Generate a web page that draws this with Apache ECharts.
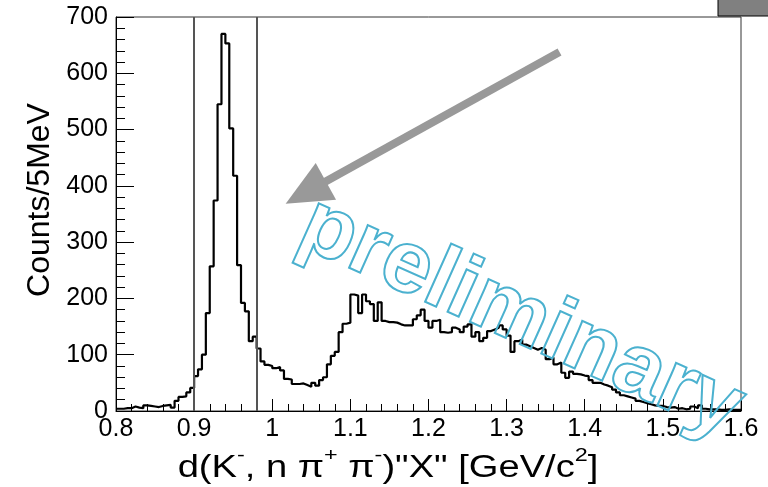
<!DOCTYPE html>
<html>
<head>
<meta charset="utf-8">
<script src="https://cdn.jsdelivr.net/npm/echarts@6/dist/echarts.min.js"></script>
<style>
  html, body { margin: 0; padding: 0; background: #fff; }
  #main { width: 768px; height: 487px; }
</style>
</head>
<body>
<div id="main"></div>
<script>
    // histogram: 5 MeV bins from 0.8 to 1.6 GeV/c2
    var binLow = 0.8;
    var binWidth = 0.005;
    var counts = [
        4, 4, 5, 5, 8, 6, 5, 10, 9, 8,
        7, 9, 10, 11, 6, 18, 25, 26, 33, 41,
        62, 74, 100, 174, 257, 374, 545, 670, 653, 502,
        418, 259, 192, 177, 124, 132, 111, 88, 82, 80,
        76, 78, 72, 57, 56, 48, 48, 49, 46, 43,
        50, 45, 55, 60, 83, 98, 105, 140, 155, 157,
        207, 205, 174, 207, 195, 190, 160, 193, 160, 158,
        158, 157, 154, 152, 152, 152, 163, 170, 180, 160,
        148, 160, 162, 140, 139, 140, 148, 145, 140, 150,
        154, 132, 140, 124, 130, 142, 145, 148, 152, 145,
        134, 105, 124, 127, 118, 115, 112, 109, 112, 109,
        92, 95, 83, 86, 68, 59, 70, 66, 65, 63,
        62, 55, 50, 50, 47, 45, 42, 38, 33, 28,
        26, 24, 22, 18, 16, 14, 12, 10, 9, 9,
        7, 6, 7, 4, 5, 3, 4, 8, 5, 10,
        4, 3, 3, 3, 2, 2, 3, 2, 2, 2
    ];
    // selection window (vertical lines)
    var cutLines = [0.9, 0.98];
    // arrow annotation, data coordinates [start, end]
    var arrowFrom = [1.3677, 638];
    var arrowTo = [1.0429, 388];

    var steps = [];
    for (var i = 0; i < counts.length; i++) {
        steps.push([+(binLow + i * binWidth).toFixed(3), counts[i]]);
    }
    steps.push([+(binLow + counts.length * binWidth).toFixed(3), counts[counts.length - 1]]);

    var font = '"Liberation Sans", Arial, Helvetica, sans-serif';
    var chart = echarts.init(document.getElementById('main'), null, {renderer: 'canvas'});
    chart.setOption({
        animation: false,
        grid: {
            left: 116,
            right: 27,
            top: 17,
            bottom: 76,
            show: true,
            borderColor: '#333',
            borderWidth: 1,
            backgroundColor: 'transparent'
        },
        xAxis: {
            type: 'value',
            min: 0.8,
            max: 1.6,
            interval: 0.1,
            axisLine: {onZero: false, lineStyle: {color: '#000', width: 1}},
            axisTick: {inside: true, length: 12, lineStyle: {color: '#000'}},
            minorTick: {show: true, splitNumber: 5, length: 7, lineStyle: {color: '#000'}},
            splitLine: {show: false},
            axisLabel: {
                color: '#000',
                fontSize: 25,
                fontFamily: font,
                margin: 6,
                formatter: function (v) { return String(+v.toFixed(2)); }
            }
        },
        yAxis: {
            type: 'value',
            min: 0,
            max: 700,
            interval: 100,
            axisLine: {show: true, lineStyle: {color: '#000', width: 1}},
            axisTick: {show: true, inside: true, length: 18, lineStyle: {color: '#000'}},
            minorTick: {show: true, splitNumber: 5, length: 9, lineStyle: {color: '#000'}},
            splitLine: {show: false},
            axisLabel: {color: '#000', fontSize: 25, fontFamily: font, margin: 8}
        },
        series: [
            {
                name: 'counts',
                type: 'line',
                step: 'end',
                symbol: 'none',
                data: steps,
                lineStyle: {color: '#000', width: 2.2},
                z: 3,
                markLine: {
                    silent: true,
                    symbol: ['none', 'none'],
                    label: {show: false},
                    lineStyle: {color: '#555', width: 2, type: 'solid'},
                    data: cutLines.map(function (c) { return {xAxis: c}; })
                }
            },
            {
                name: 'arrow',
                type: 'line',
                data: [],
                z: 2,
                markLine: {
                    silent: true,
                    symbol: ['none', 'triangle'],
                    symbolSize: [42, 46],
                    label: {show: false},
                    lineStyle: {color: '#999', width: 8, type: 'solid', opacity: 1},
                    data: [[{coord: arrowFrom}, {coord: arrowTo}]]
                }
            }
        ],
        graphic: [
            {
                type: 'rect',
                shape: {x: 718, y: -1, width: 52, height: 17},
                style: {fill: '#808080', stroke: '#000', lineWidth: 1}
            },
            {
                type: 'text',
                x: 40,
                y: 200,
                rotation: Math.PI / 2,
                style: {
                    text: 'Counts/5MeV',
                    font: '32px ' + font,
                    fill: '#000',
                    align: 'center',
                    verticalAlign: 'middle'
                }
            },
            {
                type: 'text',
                x: 388,
                y: 465,
                scaleX: 1.23,
                style: {
                    text: '{n|d(K}{s|-}{n|, n π}{s|+}{n| π}{s|-}{n|)"X" [GeV/c}{s|2}{n|]}',
                    align: 'center',
                    verticalAlign: 'middle',
                    rich: {
                        n: {fontSize: 31, fontFamily: font, fill: '#000', verticalAlign: 'bottom', lineHeight: 38},
                        s: {fontSize: 19, fontFamily: font, fill: '#000', verticalAlign: 'top', lineHeight: 38}
                    }
                }
            },
            {
                type: 'text',
                x: 521,
                y: 318,
                rotation: -0.42,
                z: 10,
                style: {
                    text: 'preliminary',
                    font: 'bold 88px ' + font,
                    fill: 'rgba(0,0,0,0)',
                    stroke: '#4bb1cf',
                    lineWidth: 2,
                    align: 'center',
                    verticalAlign: 'middle'
                }
            }
        ]
    });
</script>
</body>
</html>
